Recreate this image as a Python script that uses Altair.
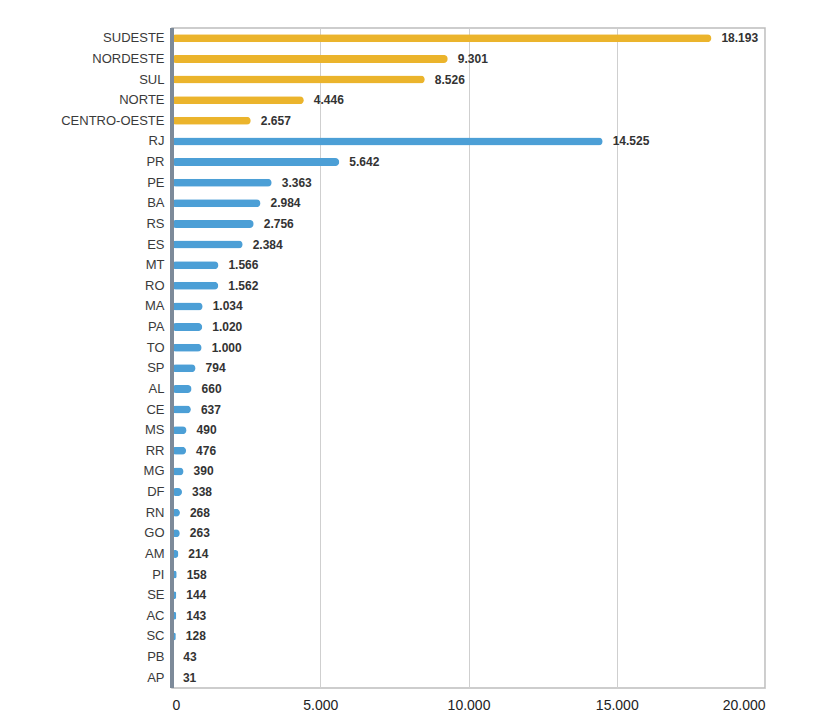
import altair as alt
import pandas as pd

categories = ["SUDESTE", "NORDESTE", "SUL", "NORTE", "CENTRO-OESTE",
              "RJ", "PR", "PE", "BA", "RS", "ES", "MT", "RO", "MA", "PA", "TO",
              "SP", "AL", "CE", "MS", "RR", "MG", "DF", "RN", "GO", "AM", "PI",
              "SE", "AC", "SC", "PB", "AP"]
values = [18193, 9301, 8526, 4446, 2657,
          14525, 5642, 3363, 2984, 2756, 2384, 1566, 1562, 1034, 1020, 1000,
          794, 660, 637, 490, 476, 390, 338, 268, 263, 214, 158,
          144, 143, 128, 43, 31]
groups = ["Região"] * 5 + ["UF"] * 27

df = pd.DataFrame({"cat": categories, "val": values, "grp": groups})
df["label"] = [f"{v:,}".replace(",", ".") for v in values]

y = alt.Y("cat:N", sort=categories, title=None,
          axis=alt.Axis(labelFont="Liberation Sans", labelFontSize=13,
                        labelColor="#3a3a3a", labelPadding=8, ticks=False,
                        domain=False, grid=False))
x = alt.X("val:Q", title=None, scale=alt.Scale(domain=[0, 20000], nice=False),
          axis=alt.Axis(values=[0, 5000, 10000, 15000, 20000],
                        labelExpr="replace(format(datum.value, ','), ',', '.')",
                        labelFont="Liberation Sans", labelFontSize=14,
                        labelColor="#222", labelPadding=10, ticks=False,
                        domain=False, grid=True, gridColor="#cfcfcf",
                        gridWidth=1))

base = alt.Chart(df)

bars = base.mark_bar(size=8, cornerRadius=4).encode(
    x=x, y=y,
    color=alt.Color("grp:N", scale=alt.Scale(domain=["Região", "UF"],
                                             range=["#EBB42C", "#4C9FD6"]),
                    legend=None),
)

text = base.mark_text(align="left", baseline="middle", dx=10,
                      font="Liberation Sans", fontSize=12, fontWeight="bold",
                      color="#333").encode(x="val:Q", y=alt.Y("cat:N", sort=categories), text="label:N")

pole = base.mark_rule(color="#7d8a99", strokeWidth=3).encode(
    x=alt.datum(0), y=alt.value(0), y2=alt.value(660))

chart = alt.layer(bars, pole, text).properties(
    width=593, height=660,
    autosize=alt.AutoSizeParams(type="none"),
    padding={"left": 164, "top": 20, "right": 50, "bottom": 30},
    background="white",
).configure_view(stroke="#bdbdbd", strokeWidth=1.5)

chart.save("out.html", embed_options={"renderer": "svg", "actions": False})
